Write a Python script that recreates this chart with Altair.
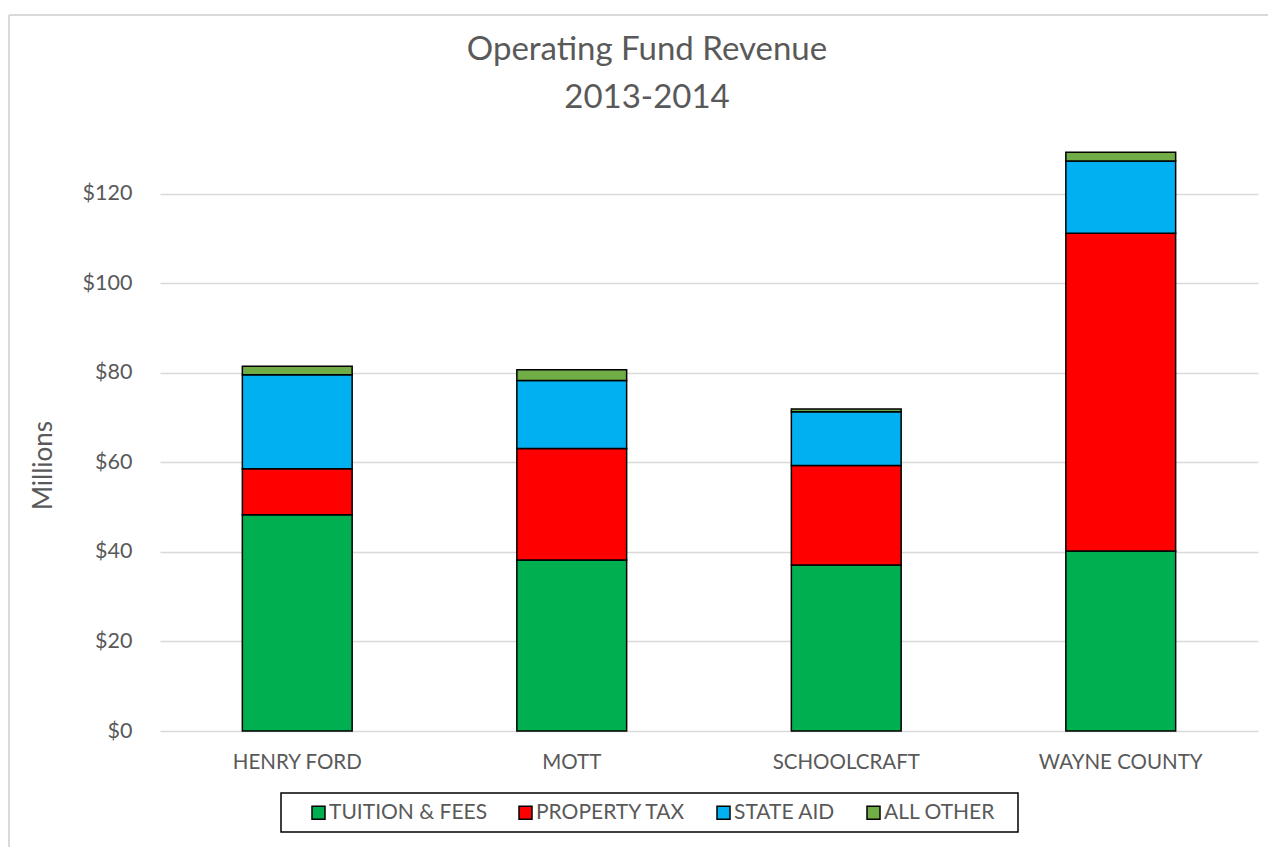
import altair as alt
import pandas as pd

colleges = ["HENRY FORD", "MOTT", "SCHOOLCRAFT", "WAYNE COUNTY"]
sources = ["TUITION & FEES", "PROPERTY TAX", "STATE AID", "ALL OTHER"]
colors = ["#00B050", "#FF0000", "#00B0F0", "#70AD47"]

tuition = [48.3, 38.2, 37.1, 40.2]
property_tax = [10.3, 24.9, 22.2, 71.0]
state_aid = [21.0, 15.2, 12.0, 16.1]
all_other = [1.9, 2.4, 0.6, 2.0]

y_ticks = [0, 20, 40, 60, 80, 100, 120]

series = [tuition, property_tax, state_aid, all_other]
rows = []
for si, (src, vals) in enumerate(zip(sources, series)):
    for c, v in zip(colleges, vals):
        rows.append({"college": c, "source": src, "value": v, "idx": si})
df = pd.DataFrame(rows)

FONT = "Lato"
GREY = "#595959"

bars = alt.Chart(df).mark_bar(stroke="black", strokeWidth=1.5).encode(
    x=alt.X("college:N", sort=colleges,
            scale=alt.Scale(paddingInner=0.6, paddingOuter=0.3),
            axis=alt.Axis(title=None, labelAngle=0, ticks=False, domain=False,
                          labelPadding=21, labelFontSize=20.5, labelColor=GREY,
                          labelFont=FONT, grid=False)),
    y=alt.Y("value:Q", stack="zero",
            scale=alt.Scale(domain=[0, 130], nice=False),
            axis=alt.Axis(title="Millions", values=y_ticks, labelExpr="'$' + datum.value",
                          ticks=False, domain=False, labelPadding=28,
                          labelFontSize=21.5, labelColor=GREY, labelFont=FONT,
                          gridColor="#d9d9d9", gridWidth=1.5,
                          titleFont=FONT, titleFontSize=26, titleColor=GREY,
                          titleFontWeight="normal", titleAngle=270,
                          titleX=-117, titleY=316, titleAlign="center",
                          titleBaseline="middle")),
    color=alt.Color("source:N", sort=sources,
                    scale=alt.Scale(domain=sources, range=colors),
                    legend=alt.Legend(title=None, orient="none", legendX=148, legendY=653,
                                      direction="horizontal", columns=4,
                                      columnPadding=27, symbolType="square",
                                      symbolSize=169, symbolStrokeColor="black",
                                      symbolStrokeWidth=1.5, labelFontSize=21,
                                      labelFont=FONT, labelColor=GREY, labelOffset=0,
                                      padding=0)),
    order=alt.Order("idx:Q", sort="ascending"),
)

one = alt.Data(values=[{"a": 1}])

legend_box = alt.Chart(one).mark_rect(filled=False, stroke="black", strokeWidth=1.5).encode(
    x=alt.value(121), x2=alt.value(858), y=alt.value(644), y2=alt.value(683)
)

frame_left = alt.Chart(one).mark_rule(color="#d9d9d9", strokeWidth=2).encode(
    x=alt.value(-151), y=alt.value(-134), y2=alt.value(720)
)
frame_top = alt.Chart(one).mark_rule(color="#d9d9d9", strokeWidth=2).encode(
    x=alt.value(-151), x2=alt.value(1120), y=alt.value(-134)
)

chart = alt.layer(frame_left, frame_top, bars, legend_box).properties(
    width=1098, height=582,
    title=alt.TitleParams(["Operating Fund Revenue", "2013-2014"], anchor="middle",
                          dx=-62, dy=139, offset=38, fontSize=33, font=FONT, color=GREY,
                          fontWeight="normal", lineHeight=48),
    autosize=alt.AutoSizeParams(type="none"),
    padding={"left": 160, "top": 149, "right": 10, "bottom": 116},
    background="white",
).configure_view(stroke=None)

chart.save("out.html", embed_options={"renderer": "svg", "actions": False})
